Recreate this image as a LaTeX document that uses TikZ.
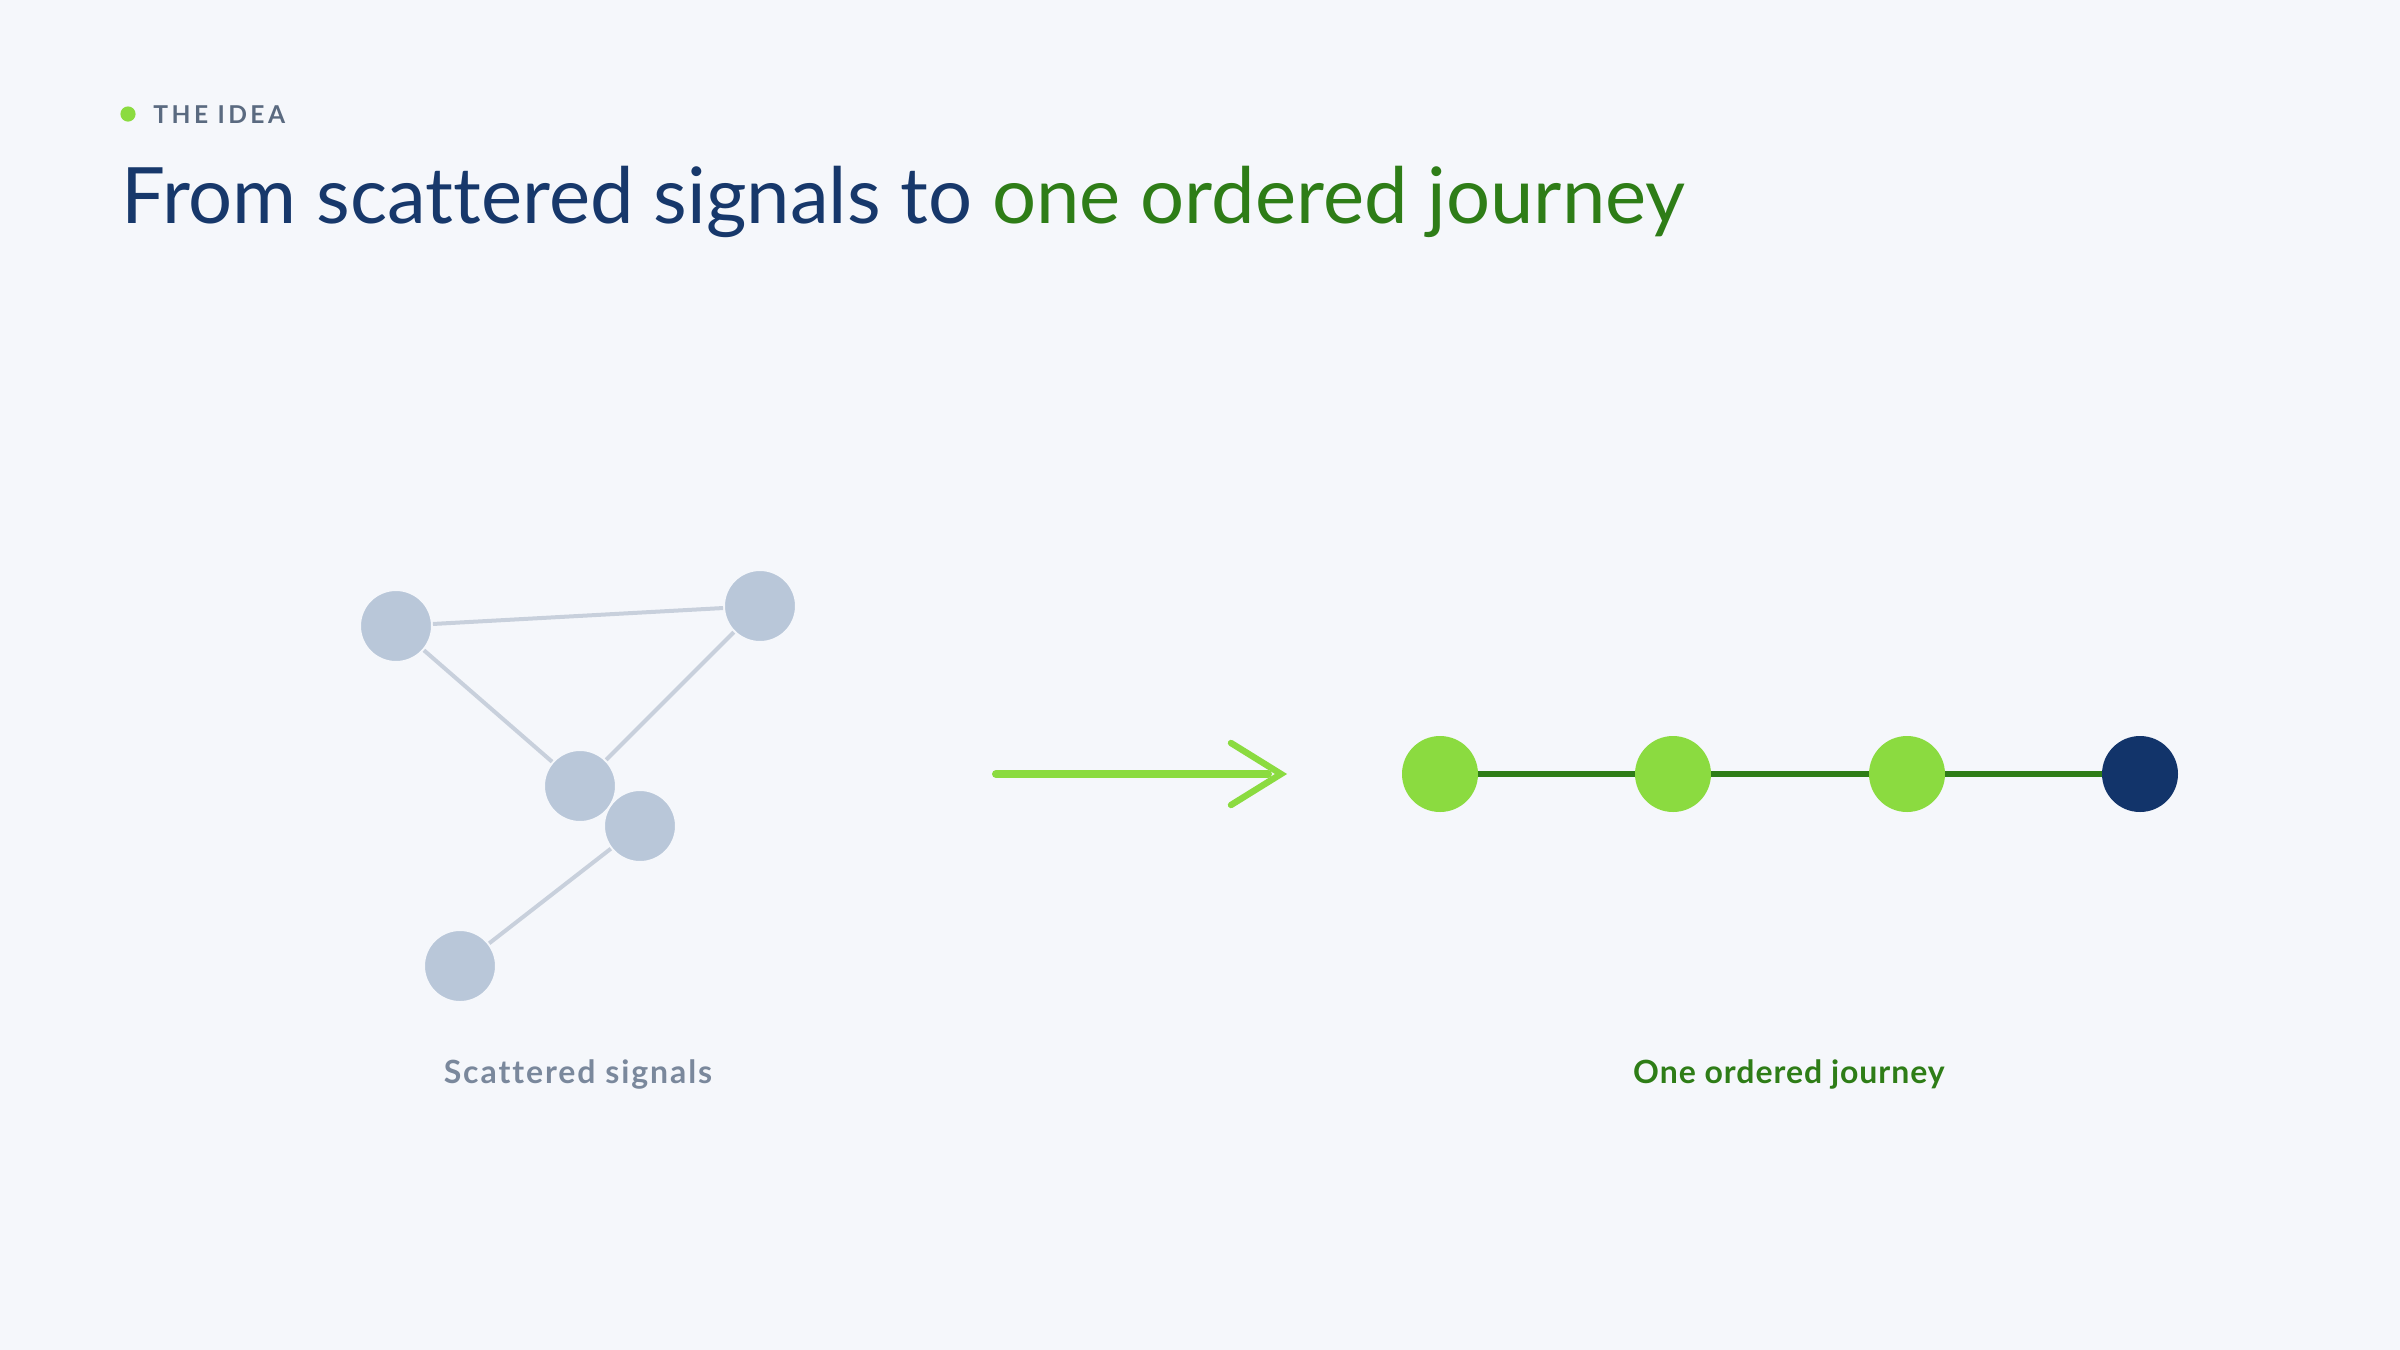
\documentclass[tikz,border=0pt]{standalone}
\usepackage{fontspec}
\setmainfont{Lato}[Ligatures=CommonOff]
\definecolor{bg}{HTML}{F5F7FB}
\definecolor{navy}{HTML}{17386B}
\definecolor{dgreen}{HTML}{2E7D17}
\definecolor{lgreen}{HTML}{8BDB40}
\definecolor{kicker}{HTML}{5A6A80}
\definecolor{sgnode}{HTML}{B9C7D9}
\definecolor{sgedge}{HTML}{C8D0DC}
\definecolor{sglabel}{HTML}{7A889C}
\definecolor{endnode}{HTML}{12346A}
\tikzset{
  sig/.style={circle, fill=sgnode, draw=bg, line width=1pt, minimum size=36pt, inner sep=0pt},
  sigedge/.style={draw=sgedge, line width=2pt},
  stepdot/.style={circle, fill=lgreen, minimum size=38pt, inner sep=0pt},
  enddot/.style={circle, fill=endnode, minimum size=38pt, inner sep=0pt},
  chainedge/.style={draw=dgreen, line width=3pt},
  arrowline/.style={draw=lgreen, line width=4pt, line cap=round},
  arrowhead/.style={draw=lgreen, line width=3.2pt, line cap=round, line join=miter},
  caption/.style={anchor=base, inner sep=0pt, font=\fontsize{16}{18}\selectfont\bfseries},
}
\begin{document}
\begin{tikzpicture}[x=0.5pt,y=-0.5pt]
\fill[bg] (0,0) rectangle (2400,1350);
\useasboundingbox (0,0) rectangle (2400,1350);

% kicker
\node[circle, fill=lgreen, minimum size=7.6pt, inner sep=0pt] (kdot) at (128,114) {};
\node[anchor=base west, inner sep=0pt, text=kicker] (kicker) at (153,123.5)
  {\fontsize{12.3}{14}\selectfont\bfseries\addfontfeature{LetterSpace=14}THE IDEA};

% title
\node[anchor=base west, inner sep=0pt] (title) at (121,223)
  {\fontsize{38.9}{42}\selectfont\color{navy}From scattered signals to \color{dgreen}one ordered journey};

% scattered signals
\node[sig] (a) at (396,626) {};
\node[sig] (b) at (760,606) {};
\node[sig] (c) at (580,786) {};
\node[sig] (d) at (640,826) {};
\node[sig] (e) at (460,966) {};
\draw[sigedge] (a) -- (b);
\draw[sigedge] (a) -- (c);
\draw[sigedge] (b) -- (c);
\draw[sigedge] (d) -- (e);
\node[caption, text=sglabel] (lscat) at (578,1083) {\addfontfeature{LetterSpace=6}Scattered signals};

% arrow
\coordinate (as) at (996,774);
\coordinate (ae) at (1268,774);
\coordinate (tip) at (1281,774);
\draw[arrowline] (as) -- (ae);
\draw[arrowhead] ([shift={(-50,-31)}]tip) -- (tip) -- ([shift={(-50,31)}]tip);

% ordered journey
\node[stepdot] (s1) at (1440,774) {};
\node[stepdot] (s2) at (1673,774) {};
\node[stepdot] (s3) at (1907,774) {};
\node[enddot] (s4) at (2140,774) {};
\draw[chainedge] (s1) -- (s2);
\draw[chainedge] (s2) -- (s3);
\draw[chainedge] (s3) -- (s4);
\node[caption, text=dgreen] (lord) at (1789,1083) {\addfontfeature{LetterSpace=3}One ordered journey};
\end{tikzpicture}
\end{document}
